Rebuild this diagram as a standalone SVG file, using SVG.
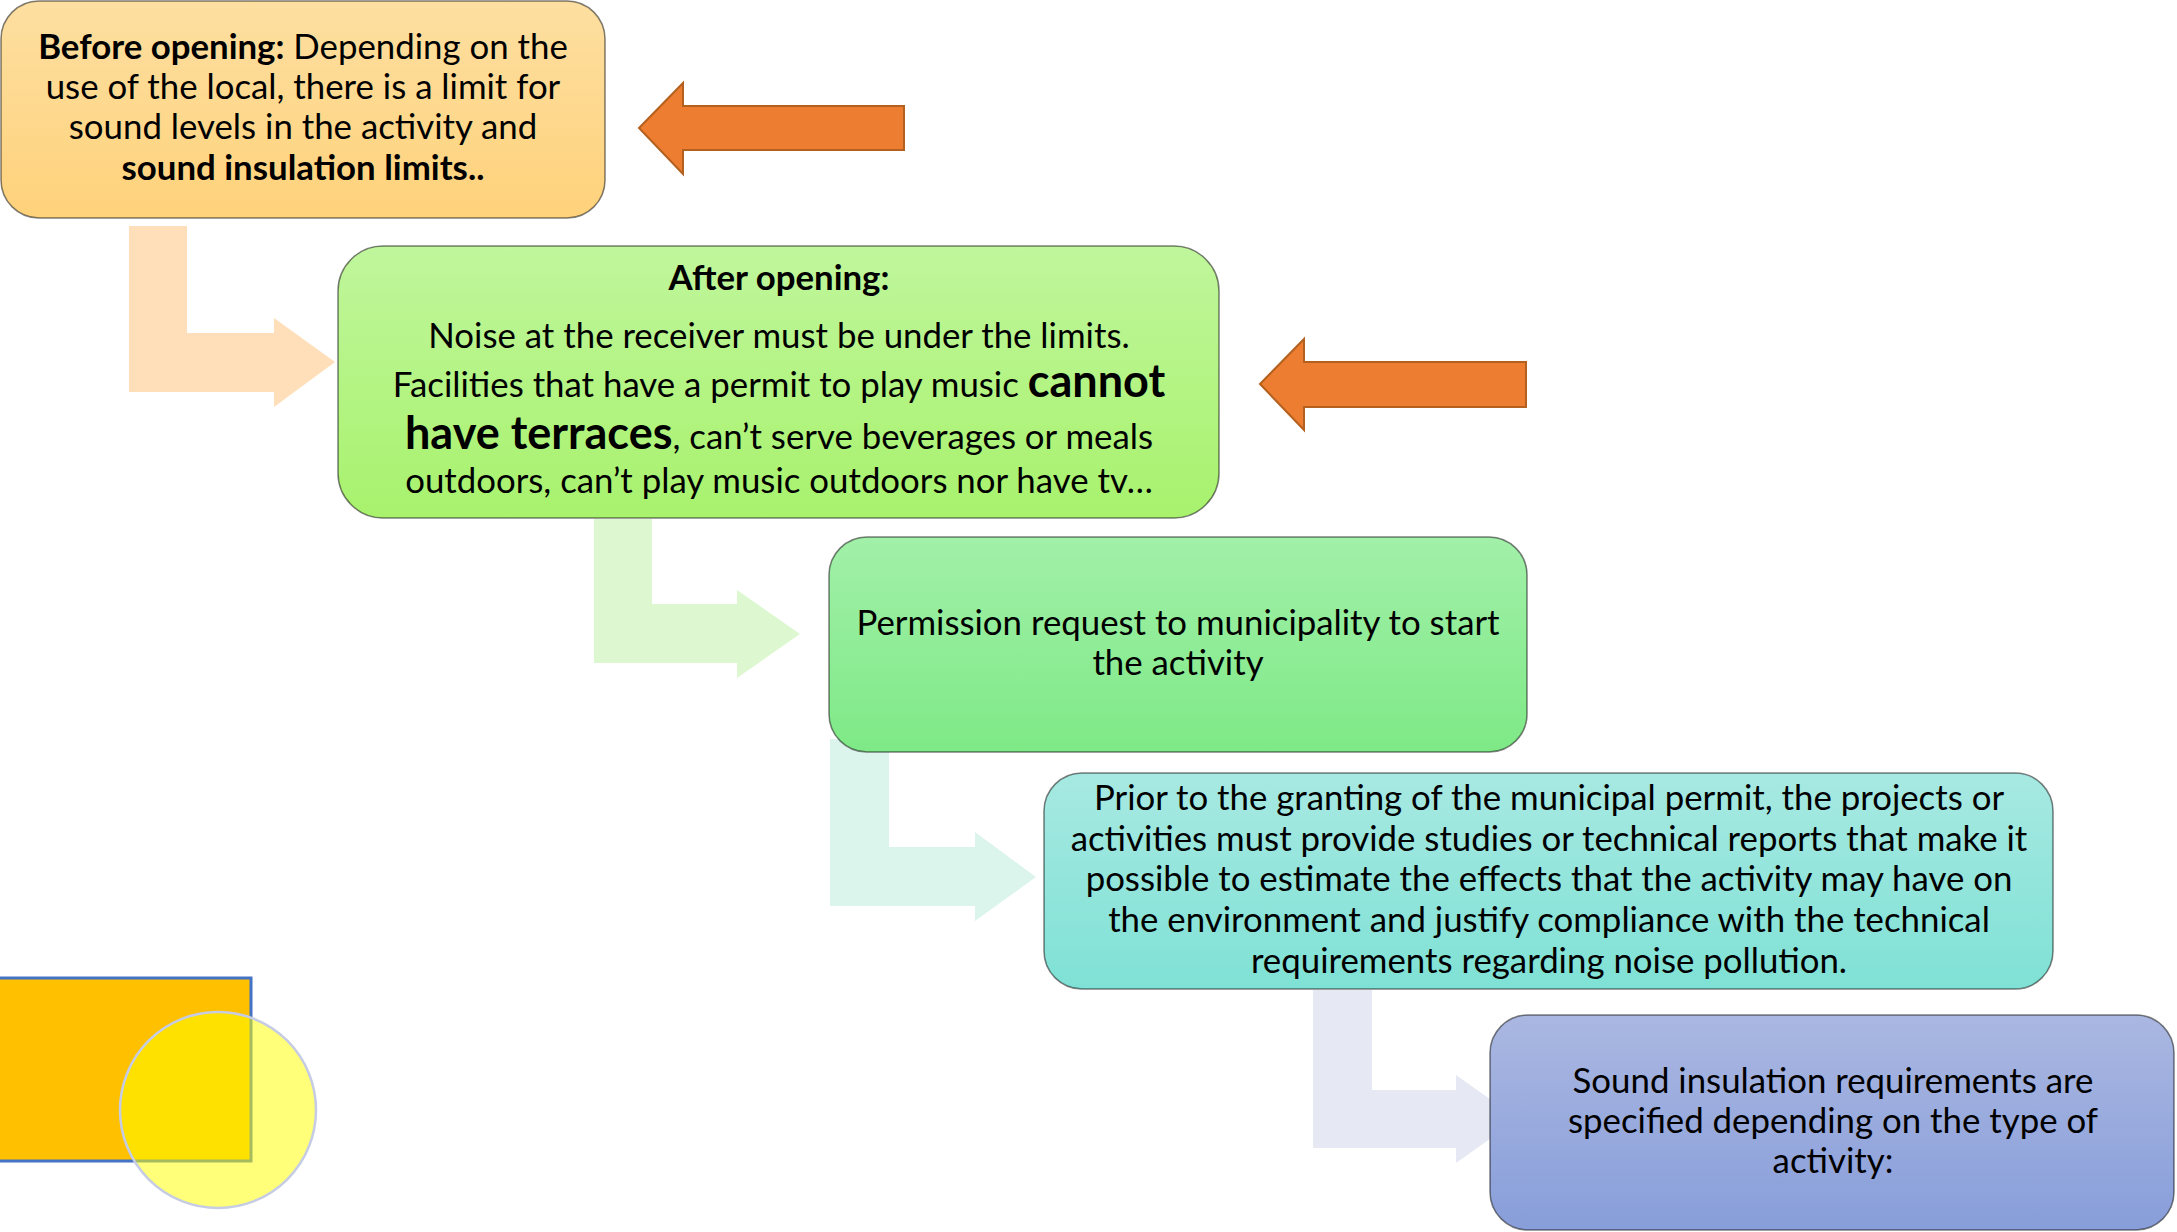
<svg xmlns="http://www.w3.org/2000/svg" width="2177" height="1232" viewBox="0 0 2177 1232">
<defs>
<linearGradient id="g1" x1="0" y1="0" x2="0" y2="1"><stop offset="0" stop-color="#FDDFA1"/><stop offset="1" stop-color="#FFD27B"/></linearGradient>
<linearGradient id="g2" x1="0" y1="0" x2="0" y2="1"><stop offset="0" stop-color="#C0F69C"/><stop offset="1" stop-color="#A8F26D"/></linearGradient>
<linearGradient id="g3" x1="0" y1="0" x2="0" y2="1"><stop offset="0" stop-color="#A2F0A9"/><stop offset="1" stop-color="#7EE986"/></linearGradient>
<linearGradient id="g4" x1="0" y1="0" x2="0" y2="1"><stop offset="0" stop-color="#A7E9E2"/><stop offset="1" stop-color="#7FE1D5"/></linearGradient>
<linearGradient id="g5" x1="0" y1="0" x2="0" y2="1"><stop offset="0" stop-color="#AAB7E1"/><stop offset="1" stop-color="#889EDA"/></linearGradient>
</defs>
<style>
.box{stroke:#000;stroke-opacity:0.5;stroke-width:1.5}
.t{font-family:Lato,"Liberation Sans",sans-serif;font-size:34.8px;fill:#000;text-anchor:middle}
.b{font-weight:bold}
.big{font-weight:bold;font-size:45px}
.oarrow{fill:#ED7D31;stroke:#B4601F;stroke-width:2}
</style>

<g id="connectors">
<path d="M129,226 H187 V333 H274 V318 L335,362 L274,407 V392 H129 Z" fill="#FEDFB9"/>
<path d="M594,519 H652 V604 H737 V590 L800,634 L737,678 V663 H594 Z" fill="#DDF8D0"/>
<path d="M830,739 H889 V847 H975 V832 L1036,877 L975,921 V906 H830 Z" fill="#DCF5EC"/>
<path d="M1313,990 H1372 V1090 H1456 V1075 L1518,1119 L1456,1163 V1148 H1313 Z" fill="#E6E9F4"/>
<path class="oarrow" d="M639,128 L683,83 V106 H904 V150 H683 V174 Z"/>
<path class="oarrow" d="M1260,384 L1304,339 V362 H1526 V407 H1304 V430 Z"/>
</g>

<g id="node1">
<rect class="box" x="1" y="1" width="604" height="217" rx="38" fill="url(#g1)"/>
<text class="t" x="303" y="59"><tspan class="b">Before opening:</tspan> Depending on the</text>
<text class="t" x="303" y="99">use of the local, there is a limit for</text>
<text class="t" x="303" y="139">sound levels in the activity and</text>
<text class="t b" x="303" y="180">sound insulation limits..</text>
</g>

<g id="node2">
<rect class="box" x="338" y="246" width="881" height="272" rx="45" fill="url(#g2)"/>
<text class="t b" x="779" y="290">After opening:</text>
<text class="t" x="779" y="348">Noise at the receiver must be under the limits.</text>
<text class="t" x="779" y="397">Facilities that have a permit to play music <tspan class="big">cannot</tspan></text>
<text class="t" x="779" y="449"><tspan class="big">have terraces</tspan>, can’t serve beverages or meals</text>
<text class="t" x="779" y="493">outdoors, can’t play music outdoors nor have tv…</text>
</g>

<g id="node3">
<rect class="box" x="829" y="537" width="698" height="215" rx="38" fill="url(#g3)"/>
<text class="t" x="1178" y="635">Permission request to municipality to start</text>
<text class="t" x="1178" y="675">the activity</text>
</g>

<g id="node4">
<rect class="box" x="1044" y="773" width="1009" height="216" rx="38" fill="url(#g4)"/>
<text class="t" x="1549" y="810">Prior to the granting of the municipal permit, the projects or</text>
<text class="t" x="1549" y="851">activities must provide studies or technical reports that make it</text>
<text class="t" x="1549" y="891">possible to estimate the effects that the activity may have on</text>
<text class="t" x="1549" y="932">the environment and justify compliance with the technical</text>
<text class="t" x="1549" y="973">requirements regarding noise pollution.</text>
</g>

<g id="node5">
<rect class="box" x="1490" y="1015" width="684" height="215" rx="38" fill="url(#g5)"/>
<text class="t" x="1833" y="1093">Sound insulation requirements are</text>
<text class="t" x="1833" y="1133">specified depending on the type of</text>
<text class="t" x="1833" y="1173">activity:</text>
</g>

<g id="shapes">
<rect x="-2" y="978" width="253" height="183" fill="#FFC000" stroke="#4472C4" stroke-width="3"/>
<circle cx="218" cy="1110" r="98" fill="#FFFF00" fill-opacity="0.52" stroke="#C5CCE4" stroke-width="2.5"/>
</g>
</svg>
